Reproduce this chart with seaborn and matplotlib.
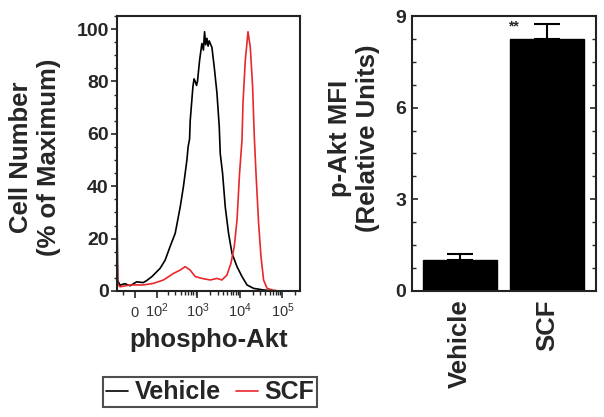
import matplotlib
matplotlib.use("Agg")
import matplotlib.pyplot as plt
import seaborn as sns
import numpy as np
from matplotlib.ticker import FixedLocator, MultipleLocator

# flow histogram: phospho-Akt intensity vs cell number (% of max)
vehicle_x = [-78, -74, -62, -40, -19, 6, 31, 46, 71, 124, 167, 222, 295, 389, 466,
             562, 600, 650, 673, 780, 830, 885, 950, 1000, 1120, 1270, 1380, 1470,
             1560, 1670, 1780, 1890, 2190, 2480, 2880, 3260, 3440, 3900, 4520, 5400,
             6500, 8530, 11200, 14700, 21000, 35600, 60000, 260000]
vehicle_y = [32, 4, 2.2, 2.8, 2.0, 3.5, 3.2, 4.0, 5.5, 8.7, 11.8, 17, 22, 32, 40,
             50, 55, 58, 65, 78, 81, 80, 78.5, 80, 88, 94.5, 92, 99,
             94, 96.5, 93.5, 95.5, 93, 85.6, 75.5, 62.7, 52.5, 45, 32, 22,
             14.4, 9.3, 5.5, 2.3, 1.0, 0.4, 0, 0]

scf_x = [-78, -74, -62, -19, 31, 79, 151, 268, 390, 510, 670, 885, 1270, 2000,
         2880, 3770, 4950, 6150, 7360, 8530, 9810, 11190, 11800, 13380, 15500,
         17560, 19900, 21800, 23900, 27500, 31400, 36100, 43500, 57000, 80000, 260000]
scf_y = [14.5, 2.5, 1.6, 2.3, 2.3, 2.9, 4.2, 6.7, 8.0, 9.3, 8.0, 5.5, 4.8, 4.2,
         4.8, 4.2, 6.1, 10.6, 17, 27, 45, 57.6, 71.6, 88, 99,
         93, 78, 59, 45, 26, 13, 4.2, 1.0, 0.4, 0, 0]

x_ticks = [0, 100, 1000, 10000, 100000]
x_ticklabels = ["$0$", "$10^{2}$", "$10^{3}$", "$10^{4}$", "$10^{5}$"]

# bar panel: MFI
groups = ["Vehicle", "SCF"]
mfi = [1.0, 8.25]
mfi_err = [0.2, 0.49]

sns.set_theme(style="ticks")
plt.rcParams["font.family"] = ["Liberation Sans", "DejaVu Sans"]
plt.rcParams["mathtext.default"] = "regular"
plt.rcParams["axes.linewidth"] = 1.5

fig = plt.figure(figsize=(6.04, 4.17), dpi=100)
ax1 = fig.add_axes([0.1937, 0.3022, 0.303, 0.6594])
ax2 = fig.add_axes([0.6821, 0.3022, 0.3046, 0.6594])

# ---- histogram ----
ax1.set_xscale("function", functions=(lambda v: np.arcsinh(v / 68.0),
                                      lambda u: 68.0 * np.sinh(u)))
sns.lineplot(x=vehicle_x, y=vehicle_y, ax=ax1, color="black", lw=1.2,
             sort=False, estimator=None, label="Vehicle")
sns.lineplot(x=scf_x, y=scf_y, ax=ax1, color="#e8282b", lw=1.2,
             sort=False, estimator=None, label="SCF")
handles, labels = ax1.get_legend_handles_labels()
if ax1.get_legend() is not None:
    ax1.get_legend().remove()

ax1.set_xlim(-78, 2.6e5)
ax1.set_ylim(0, 105)
ax1.xaxis.set_major_locator(FixedLocator(x_ticks))
ax1.set_xticklabels(x_ticklabels, fontsize=10.5, color="#333333")
for t in ax1.get_xticklabels():
    t.set_verticalalignment("baseline")
minor = [-50] + [k * 10 ** n for n in (2, 3, 4) for k in range(2, 10)] + [200000]
ax1.xaxis.set_minor_locator(FixedLocator(minor))
ax1.set_yticks([0, 20, 40, 60, 80, 100])
ax1.yaxis.set_minor_locator(MultipleLocator(5))
ax1.tick_params(axis="y", which="major", labelsize=14, length=4, width=1.2, pad=2)
ax1.tick_params(axis="y", which="minor", length=2, width=1)
ax1.tick_params(axis="x", which="major", length=5, width=1.2, pad=14)
ax1.tick_params(axis="x", which="minor", length=3, width=1)
for t in ax1.get_yticklabels():
    t.set_fontweight("bold")
ax1.set_ylabel("Cell Number\n(% of Maximum)", fontsize=18.5, fontweight="bold")
ax1.yaxis.set_label_coords(-0.305, 0.487)
ax1.set_xlabel("phospho-Akt", fontsize=18.5, fontweight="bold", va="top")
ax1.xaxis.set_label_coords(0.5, -0.135)
for s in ax1.spines.values():
    s.set_visible(True)
    s.set_color("#222222")

fig.legend(handles, labels, loc="center", bbox_to_anchor=(0.348, 0.059),
           ncol=2, frameon=True, fancybox=False, edgecolor="#222222",
           prop={"size": 18, "weight": "bold"}, handlelength=0.9,
           handletextpad=0.25, columnspacing=0.6, borderpad=0.12,
           borderaxespad=0)
fig.legends[0].get_frame().set_linewidth(1.5)

# ---- bar chart ----
sns.barplot(x=groups, y=mfi, ax=ax2, color="black", saturation=1,
            width=0.85, errorbar=None, edgecolor="black")
ax2.errorbar(x=[0, 1], y=mfi, yerr=[[0, 0], mfi_err], fmt="none",
             ecolor="black", elinewidth=1.5, capsize=9.5, capthick=1.5)
ax2.text(0.61, 8.67, "**", ha="center", va="center", fontsize=10,
         fontweight="bold")
ax2.set_xlim(-0.55, 1.56)
ax2.set_ylim(0, 9)
ax2.set_yticks([0, 3, 6, 9])
ax2.yaxis.set_minor_locator(MultipleLocator(0.75))
ax2.tick_params(axis="y", which="both", direction="in", left=True, right=True)
ax2.tick_params(axis="y", which="major", labelsize=14, length=4, width=1.2, pad=4)
ax2.tick_params(axis="y", which="minor", length=3, width=1)
ax2.tick_params(axis="x", length=0, pad=6)
ax2.set_xticks([0, 1])
ax2.set_xticklabels(groups, rotation=90, fontsize=18.5, fontweight="bold",
                    va="top", ha="center")
for t in ax2.get_yticklabels():
    t.set_fontweight("bold")
ax2.set_ylabel("p-Akt MFI\n(Relative Units)", fontsize=18.5, fontweight="bold")
ax2.yaxis.set_label_coords(-0.175, 0.556)
ax2.set_xlabel("")
for s in ax2.spines.values():
    s.set_visible(True)
    s.set_color("#222222")

fig.savefig("out.png", dpi=100)
plt.close(fig)
